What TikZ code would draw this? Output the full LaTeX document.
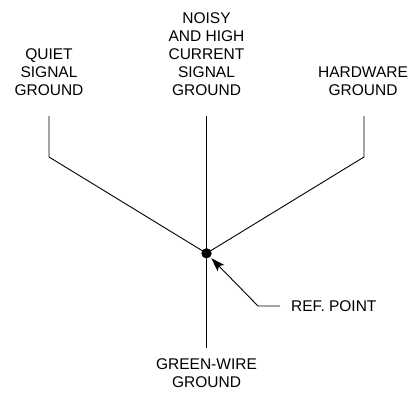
\documentclass[tikz,border=0pt]{standalone}
\usepackage{fontspec}
\setmainfont{Liberation Sans}
\usetikzlibrary{arrows.meta}
\begin{document}
\begin{tikzpicture}[x=1pt,y=-1pt,
  lbl/.style={align=center,inner sep=0pt,font=\fontsize{15.5}{18}\selectfont},
  wire/.style={line width=0.9pt},
  refdot/.style={circle,fill=black,inner sep=0pt,minimum size=10pt}]
\useasboundingbox (0,0) rectangle (409,395);
% labels
\node[lbl,anchor=south] (q) at (49,96) {QUIET\\SIGNAL\\GROUND};
\node[lbl,anchor=south] (n) at (206.5,96) {NOISY\\AND HIGH\\CURRENT\\SIGNAL\\GROUND};
\node[lbl,anchor=south] (h) at (363,96) {HARDWARE\\GROUND};
\node[lbl,anchor=north] (g) at (206.5,358) {GREEN-WIRE\\GROUND};
\node[lbl,anchor=west] (r) at (291,306) {REF. POINT};
% points
\coordinate (qt) at (49,116);
\coordinate (qb) at (49,157);
\coordinate (nt) at (206.5,116);
\coordinate (ht) at (364,116);
\coordinate (hb) at (364,157);
\coordinate (gb) at (206.5,348);
\coordinate (ra) at ([xshift=-11pt]r.west);
\coordinate (rb) at (258,306);
\node[refdot] (d) at (206.5,253.3) {};
% wires
\draw[wire] (qt) -- (qb) -- (d.center);
\draw[wire] (ht) -- (hb) -- (d.center);
\draw[wire] (nt) -- (gb);
\node[refdot] at (d) {};
\draw[wire,-{Stealth[length=14pt,width=9pt,inset=3pt]},shorten >=1.5pt] (ra) -- (rb) -- (d);
\end{tikzpicture}
\end{document}
